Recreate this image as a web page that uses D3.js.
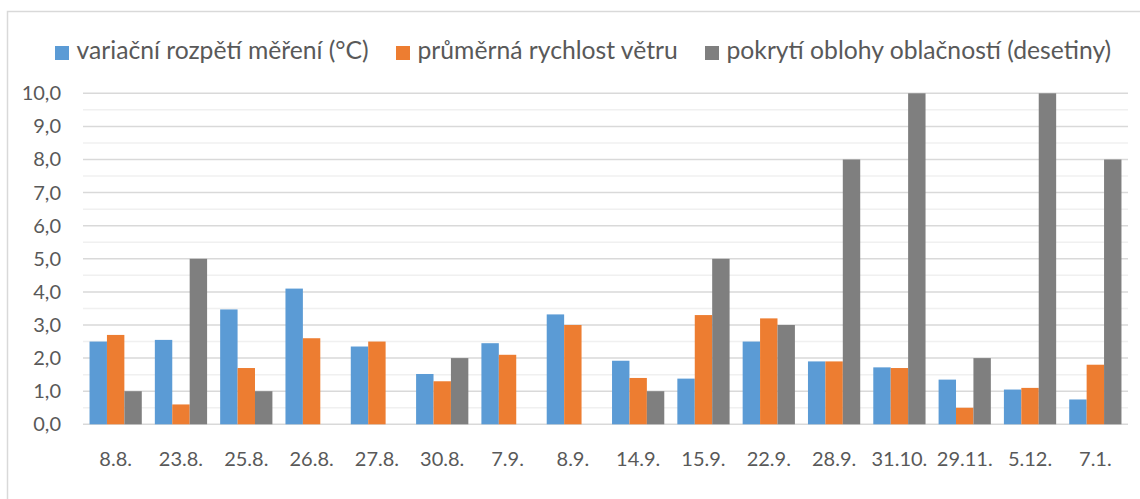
<!DOCTYPE html>
<html>
<head>
<meta charset="utf-8">
<script src="https://cdn.jsdelivr.net/npm/d3@7"></script>
<style>
  html, body { margin: 0; padding: 0; background: #fff; }
  svg { display: block; }
  text { font-family: Lato, "Noto Sans", sans-serif; fill: #595959; }
</style>
</head>
<body>
<svg id="chart" width="1140" height="499"></svg>
<script>
// Measurement dates
const categories = ["8.8.", "23.8.", "25.8.", "26.8.", "27.8.", "30.8.", "7.9.", "8.9.",
  "14.9.", "15.9.", "22.9.", "28.9.", "31.10.", "29.11.", "5.12.", "7.1."];

// Series names
const seriesNames = [
  "variační rozpětí měření (°C)",
  "průměrná rychlost větru",
  "pokrytí oblohy oblačností (desetiny)"
];

// Series values, one per date
const rangeValues = [2.5, 2.55, 3.47, 4.1, 2.35, 1.52, 2.45, 3.32, 1.92, 1.38, 2.5, 1.9, 1.72, 1.35, 1.05, 0.75];
const windValues  = [2.7, 0.6, 1.7, 2.6, 2.5, 1.3, 2.1, 3.0, 1.4, 3.3, 3.2, 1.9, 1.7, 0.5, 1.1, 1.8];
const cloudValues = [1, 5, 1, 0, 0, 2, 0, 0, 1, 5, 3, 8, 10, 2, 10, 8];

// Y axis ticks
const yTicks = [0, 1, 2, 3, 4, 5, 6, 7, 8, 9, 10];

const colors = ["#5b9bd5", "#ed7d31", "#7f7f7f"];
const seriesValues = [rangeValues, windValues, cloudValues];

const svg = d3.select("#chart");

// Outer chart frame (right and bottom edges run past the visible area)
svg.append("rect")
  .attr("x", 7.5).attr("y", 11.5)
  .attr("width", 1150).attr("height", 500)
  .attr("fill", "none").attr("stroke", "#d9d9d9").attr("stroke-width", 1.5);

const plotLeft = 83, plotRight = 1128, plotTop = 93.3, plotBottom = 424.3;

const x = d3.scaleBand().domain(categories).range([plotLeft, plotRight])
  .paddingInner(0.2).paddingOuter(0.1);
const xs = d3.scaleBand().domain(d3.range(seriesNames.length)).range([0, x.bandwidth()]);
const y = d3.scaleLinear().domain([0, 10]).range([plotBottom, plotTop]);

// Minor gridlines (half units)
const minor = d3.range(0.5, 10, 1);
svg.append("g").selectAll("line").data(minor).join("line")
  .attr("x1", plotLeft).attr("x2", plotRight)
  .attr("y1", d => y(d)).attr("y2", d => y(d))
  .attr("stroke", "#f0f0f0").attr("stroke-width", 1.5);

// Major gridlines
svg.append("g").selectAll("line").data(yTicks).join("line")
  .attr("x1", plotLeft).attr("x2", plotRight)
  .attr("y1", d => y(d)).attr("y2", d => y(d))
  .attr("stroke", "#d9d9d9").attr("stroke-width", 1.5);

// Bars
const groups = svg.append("g").selectAll("g").data(categories).join("g")
  .attr("transform", d => `translate(${x(d)},0)`);
groups.selectAll("rect")
  .data((d, i) => seriesValues.map((vals, s) => ({ s, v: vals[i] })))
  .join("rect")
  .attr("x", d => xs(d.s))
  .attr("width", xs.bandwidth())
  .attr("y", d => y(d.v))
  .attr("height", d => y(0) - y(d.v))
  .attr("fill", d => colors[d.s]);

// Y axis labels
const fmt = v => d3.format(".1f")(v).replace(".", ",");
const yAxis = d3.axisLeft(y).tickValues(yTicks).tickFormat(fmt).tickSize(0).tickPadding(0);
svg.append("g").attr("transform", "translate(61,0)").call(yAxis)
  .call(g => g.select(".domain").remove())
  .call(g => g.selectAll("text").attr("font-size", 20).attr("fill", "#595959")
    .attr("font-family", "Lato, 'Noto Sans', sans-serif"));

// X axis labels
const xAxis = d3.axisBottom(x).tickSize(0).tickPadding(0);
svg.append("g").attr("transform", "translate(0,452)").call(xAxis)
  .call(g => g.select(".domain").remove())
  .call(g => g.selectAll("text").attr("font-size", 20).attr("fill", "#595959")
    .attr("font-family", "Lato, 'Noto Sans', sans-serif"));

// Legend
const legendX = [55, 396, 705];
const legend = svg.append("g").selectAll("g").data(seriesNames).join("g")
  .attr("transform", (d, i) => `translate(${legendX[i]},46)`);
legend.append("rect").attr("width", 14).attr("height", 14)
  .attr("fill", (d, i) => colors[i]);
legend.append("text").attr("x", 21.5).attr("y", 12.8)
  .attr("font-size", 24.7).text(d => d);
</script>
</body>
</html>
